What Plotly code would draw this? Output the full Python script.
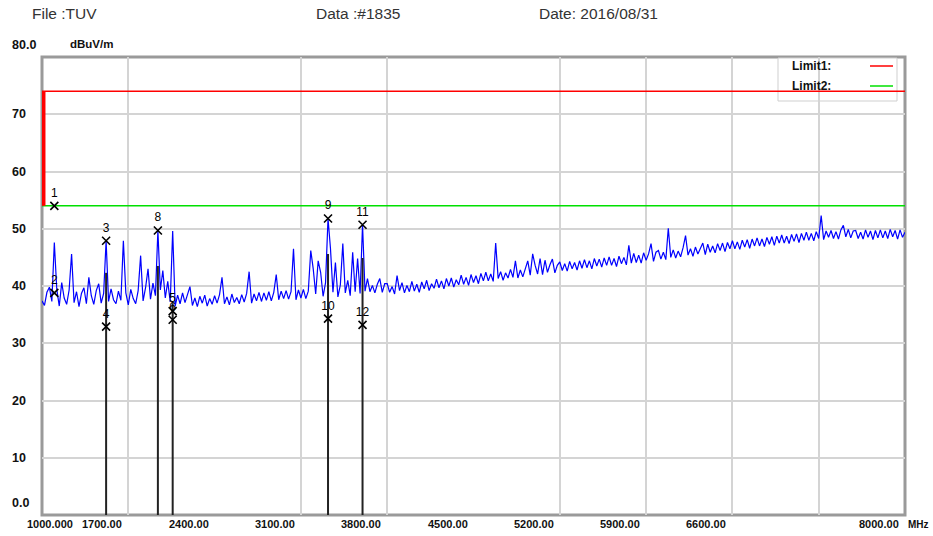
import plotly.graph_objects as go

# ---------------- data ----------------
f_start = 1000   # MHz
f_step = 20      # MHz
level = [
    37.4, 36.6, 38.9, 39.8, 37.3, 47.6, 39.4, 36.5, 40.6, 37.9,
    36.8, 39.3, 45.6, 37.1, 39.0, 36.4, 38.7, 39.7, 36.9, 41.5,
    38.3, 36.8, 39.2, 40.4, 37.0, 38.7, 47.9, 37.3, 39.5, 37.6,
    36.9, 39.1, 37.5, 47.9, 38.8, 36.7, 39.4, 37.8, 36.9, 39.2,
    45.3, 37.4, 39.7, 43.0, 37.7, 40.5, 38.3, 49.7, 39.3, 42.7,
    37.9, 40.8, 37.2, 49.6, 36.5, 38.4, 36.9, 38.8, 37.1, 38.6,
    39.9, 36.6, 37.9, 36.4, 38.2, 37.0, 38.4, 36.5, 37.8, 36.8,
    38.3, 37.0, 38.5, 41.5, 36.9, 38.1, 36.7, 38.6, 37.1, 38.0,
    36.9, 38.5, 37.2, 38.7, 42.5, 37.0, 38.6, 37.4, 38.9, 37.3,
    38.8, 37.5, 39.0, 37.4, 38.9, 42.0, 37.6, 39.1, 37.8, 39.2,
    37.7, 39.0, 46.5, 37.6, 39.3, 37.9, 39.4, 37.8, 39.1, 46.2,
    43.0, 38.6, 44.4, 42.4, 38.2, 40.6, 51.8, 46.5, 38.9, 44.1,
    38.1, 40.2, 47.4, 38.8, 41.0, 38.3, 45.9, 39.0, 44.8, 38.7,
    50.7, 39.1, 41.3, 39.0, 40.1, 38.8, 40.3, 41.3, 38.9, 40.4,
    40.4, 38.9, 39.9, 38.6, 41.8, 39.2, 40.6, 38.8, 40.1, 39.0,
    40.8, 39.1, 40.3, 38.9, 40.7, 39.5, 41.0, 39.2, 40.4, 39.6,
    41.2, 39.7, 40.9, 39.5, 41.3, 40.0, 41.4, 39.8, 41.1, 40.2,
    41.9, 40.3, 41.5, 40.1, 42.0, 40.6, 41.8, 40.4, 42.2, 40.9,
    42.4, 40.9, 42.1, 40.8, 47.5, 41.3, 42.5, 41.0, 42.3, 41.4,
    42.9, 41.5, 44.4, 41.4, 42.8, 41.6, 43.0, 44.4, 41.9, 45.6,
    43.6, 42.1, 44.8, 42.0, 44.5, 42.4, 43.7, 44.7, 42.3, 43.6,
    44.2, 42.7, 43.9, 42.6, 44.3, 43.0, 44.1, 42.8, 44.4, 43.1,
    44.6, 43.2, 44.4, 43.0, 44.8, 43.5, 44.7, 43.3, 44.9, 43.6,
    45.1, 43.6, 44.8, 43.4, 45.2, 43.9, 45.0, 43.7, 47.1, 44.0,
    45.7, 44.1, 45.4, 44.0, 45.8, 44.5, 45.6, 47.4, 44.3, 45.9,
    46.2, 44.7, 45.9, 44.6, 50.1, 45.0, 46.3, 44.9, 46.1, 45.1,
    46.7, 48.8, 45.4, 46.5, 45.2, 46.8, 45.6, 46.6, 47.5, 45.5,
    47.3, 45.9, 47.0, 45.8, 47.4, 46.2, 47.5, 46.0, 47.6, 46.5,
    47.9, 46.5, 47.7, 46.4, 48.0, 46.8, 48.1, 46.6, 48.2, 47.0,
    48.4, 47.0, 48.2, 46.9, 48.5, 47.3, 48.6, 47.1, 48.7, 47.5,
    48.9, 47.5, 48.7, 47.4, 49.0, 47.8, 49.1, 47.6, 49.2, 48.0,
    49.4, 48.0, 49.2, 47.9, 49.5, 48.3, 52.3, 48.1, 49.6, 48.5,
    49.7, 48.3, 49.5, 48.2, 49.8, 50.6, 48.6, 49.9, 48.4, 49.6,
    49.7, 48.3, 49.4, 48.2, 49.8, 48.5, 49.6, 48.1, 49.7, 48.4,
    49.8, 48.4, 49.6, 48.3, 49.9, 48.6, 49.7, 48.2, 49.8, 48.5,
    49.4,
]

marker_labels = ["1", "2", "3", "4", "5", "6", "8", "9", "10", "11", "12"]
marker_freq = [1100, 1100, 1520, 1520, 2060, 2060, 1940, 3320, 3320, 3600, 3600]
marker_level = [54.0, 38.8, 47.9, 32.9, 35.6, 34.1, 49.7, 51.8, 34.3, 50.7, 33.2]

reading_freq = [1520, 1940, 2060, 3320, 3600]
reading_top = [42.3, 43.5, 37.0, 45.6, 44.9]

limit1 = 74.0
limit2 = 54.0

x_grid = [1700, 3100, 3800, 5200, 5900, 6600, 7300]
y_grid = [10, 20, 30, 40, 50, 60, 70]
x_tick_vals = [1000, 1700, 2400, 3100, 3800, 4500, 5200, 5900, 6600, 8000]
x_tick_text = ["1000.000", "1700.00", "2400.00", "3100.00", "3800.00",
               "4500.00", "5200.00", "5900.00", "6600.00", "8000.00"]
y_tick_vals = [0, 10, 20, 30, 40, 50, 60, 70, 80]
y_tick_text = ["0.0", "10", "20", "30", "40", "50", "60", "70", "80.0"]

header_texts = ["File :TUV", "Data :#1835", "Date: 2016/08/31"]
unit_y = "dBuV/m"
unit_x = "MHz"
legend_names = ["Limit1:", "Limit2:"]

# ---------------- figure ----------------
W, H = 933, 536
L, R, T, B = 42, 28, 57, 21
PW, PH = W - L - R, H - T - B
FONT = "Liberation Sans, Arial, sans-serif"


def px_x(p):
    return (p - L) / PW


def px_y(p):
    return (H - B - p) / PH


freq = [f_start + f_step * i for i in range(len(level))]
f_min, f_max = x_tick_vals[0], x_tick_vals[-1]

fig = go.Figure()

# limit lines
fig.add_trace(go.Scatter(x=[f_min, f_max], y=[limit2, limit2], mode="lines",
                         line=dict(color="#00e000", width=1.5), hoverinfo="skip"))
fig.add_trace(go.Scatter(x=[f_min, f_max], y=[limit1, limit1], mode="lines",
                         line=dict(color="#ff0000", width=1.5), hoverinfo="skip"))

# spectrum
fig.add_trace(go.Scatter(x=freq, y=level, mode="lines",
                         line=dict(color="#0000ff", width=1.2)))

# reading lines
rx, ry = [], []
for fq, top in zip(reading_freq, reading_top):
    rx += [fq, fq, None]
    ry += [0, top, None]
fig.add_trace(go.Scatter(x=rx, y=ry, mode="lines",
                         line=dict(color="#222222", width=2), hoverinfo="skip"))

# markers
fig.add_trace(go.Scatter(x=marker_freq, y=marker_level, mode="markers+text",
                         text=marker_labels, textposition="top center",
                         textfont=dict(family=FONT, size=12, color="#000000"),
                         marker=dict(symbol="x-thin", size=8,
                                     line=dict(color="#000000", width=1.6)),
                         cliponaxis=False))

shapes = []
# red vertical at start of limit1
shapes.append(dict(type="line", xref="paper", yref="y", x0=0.002, x1=0.002,
                   y0=limit2, y1=limit1, line=dict(color="#ff0000", width=3.5),
                   layer="above"))
# plot frame
shapes.append(dict(type="rect", xref="paper", yref="paper", x0=0, x1=1, y0=0, y1=1,
                   line=dict(color="#9a9a9a", width=3), layer="below"))
# legend box
shapes.append(dict(type="rect", xref="paper", yref="paper",
                   x0=px_x(778), x1=px_x(897), y0=px_y(101), y1=px_y(58),
                   line=dict(color="#cfcfcf", width=1), fillcolor="white",
                   layer="between"))
shapes.append(dict(type="line", xref="paper", yref="paper",
                   x0=px_x(870), x1=px_x(893), y0=px_y(66), y1=px_y(66),
                   line=dict(color="#ff0000", width=1.5)))
shapes.append(dict(type="line", xref="paper", yref="paper",
                   x0=px_x(870), x1=px_x(893), y0=px_y(86), y1=px_y(86),
                   line=dict(color="#00e000", width=1.5)))

ann = []
# header
for txt, xp in zip(header_texts, [30, 314, 537]):
    ann.append(dict(text=txt, xref="paper", yref="paper", x=px_x(xp), y=px_y(13),
                    xanchor="left", yanchor="middle", showarrow=False,
                    font=dict(family=FONT, size=15.5, color="#333333")))
# y tick labels
for v, t in zip(y_tick_vals, y_tick_text):
    shift = 12 if v in (y_tick_vals[0], y_tick_vals[-1]) else 0
    ann.append(dict(text="<b>" + t + "</b>", xref="paper", yref="y", x=0, y=v,
                    xshift=-32, yshift=shift,
                    xanchor="left", yanchor="middle", showarrow=False,
                    font=dict(family=FONT, size=12.5, color="#111111")))
ann.append(dict(text="<b>" + unit_y + "</b>", xref="paper", yref="paper",
                x=px_x(68), y=px_y(44),
                xanchor="left", yanchor="middle", showarrow=False,
                font=dict(family=FONT, size=11.5, color="#111111")))
# x tick labels
for v, t in zip(x_tick_vals, x_tick_text):
    if v == x_tick_vals[0]:
        ann.append(dict(text="<b>" + t + "</b>", xref="x", yref="paper", x=v, y=0,
                        xshift=8, yshift=-9,
                        xanchor="center", yanchor="middle", showarrow=False,
                        font=dict(family=FONT, size=11, color="#111111")))
    else:
        ann.append(dict(text="<b>" + t + "</b>", xref="x", yref="paper", x=v, y=0,
                        xshift=-4, yshift=-9,
                        xanchor="right", yanchor="middle", showarrow=False,
                        font=dict(family=FONT, size=11, color="#111111")))
ann.append(dict(text="<b>" + unit_x + "</b>", xref="paper", yref="paper",
                x=px_x(W - 2), y=0, yshift=-9,
                xanchor="right", yanchor="middle", showarrow=False,
                font=dict(family=FONT, size=10, color="#111111")))
# legend text
for name, yp in zip(legend_names, [66, 86]):
    ann.append(dict(text="<b>" + name + "</b>", xref="paper", yref="paper",
                    x=px_x(790), y=px_y(yp),
                    xanchor="left", yanchor="middle", showarrow=False,
                    font=dict(family=FONT, size=12, color="#111111")))

fig.update_layout(
    width=W, height=H,
    margin=dict(l=L, r=R, t=T, b=B, pad=0),
    paper_bgcolor="white", plot_bgcolor="white",
    showlegend=False,
    shapes=shapes, annotations=ann,
    xaxis=dict(range=[f_min, f_max], tickmode="array", tickvals=x_grid,
               showticklabels=False, showgrid=True, gridcolor="#d4d4d4", gridwidth=1.5,
               zeroline=False, showline=False, ticks=""),
    yaxis=dict(range=[y_tick_vals[0], y_tick_vals[-1]], tickmode="array", tickvals=y_grid,
               showticklabels=False, showgrid=True, gridcolor="#d4d4d4", gridwidth=1.5,
               zeroline=False, showline=False, ticks=""),
)

fig.write_html(
    "out.html",
    config={"displayModeBar": False},
    post_script="document.body.style.margin='0px';document.body.style.overflow='hidden';",
)
